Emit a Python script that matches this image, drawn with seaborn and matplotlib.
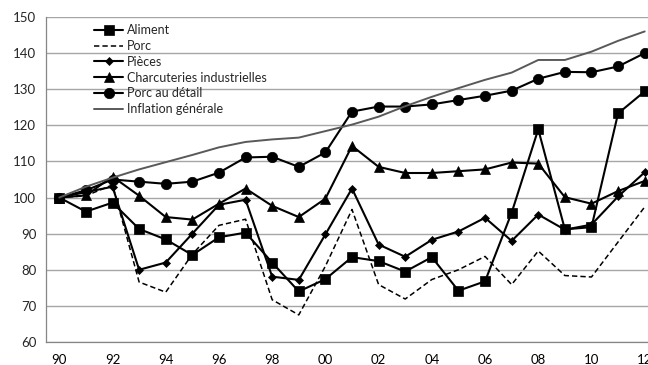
import numpy as np
import pandas as pd
import matplotlib
matplotlib.use("Agg")
import matplotlib.pyplot as plt
import seaborn as sns

years = list(range(1990, 2013))

aliment = [100, 96.1, 98.6, 91.3, 88.4, 84.1, 89.0, 90.3, 82.0, 74.0, 77.4,
           83.5, 82.4, 79.5, 83.5, 74.2, 76.8, 95.8, 118.9, 91.2, 91.8, 123.3, 129.4]
porc = [100, 100.5, 103.5, 76.6, 73.8, 84.3, 92.3, 94.0, 71.7, 67.5, 81.0,
        96.7, 75.9, 71.9, 77.3, 80.0, 83.7, 75.9, 85.2, 78.4, 78.0, 87.7, 97.4]
pieces = [100, 101.5, 103.0, 80.0, 82.0, 90.0, 98.0, 99.4, 78.1, 77.2, 89.8,
          102.5, 87.0, 83.6, 88.3, 90.6, 94.4, 88.0, 95.3, 91.1, 92.5, 100.3, 107.0]
charcuteries = [100, 100.6, 105.8, 100.5, 94.6, 93.9, 98.3, 102.5, 97.7, 94.6, 99.7,
                114.3, 108.5, 106.8, 106.8, 107.3, 107.8, 109.7, 109.4, 100.1, 98.3, 101.8, 104.6]
porc_detail = [100, 102.0, 105.0, 104.4, 103.8, 104.4, 106.9, 111.1, 111.3, 108.5, 112.5,
               123.8, 125.2, 125.2, 125.8, 127.0, 128.2, 129.6, 132.9, 134.8, 134.7, 136.3, 140.0]
inflation = [100, 103.0, 105.5, 107.8, 109.8, 111.8, 113.9, 115.4, 116.1, 116.6, 118.4,
             120.2, 122.4, 125.3, 127.9, 130.3, 132.6, 134.6, 138.1, 138.1, 140.4, 143.4, 146.0]

series_names = ["Aliment", "Porc", "Pièces", "Charcuteries industrielles",
                "Porc au détail", "Inflation générale"]
series_values = [aliment, porc, pieces, charcuteries, porc_detail, inflation]

y_ticks = [60, 70, 80, 90, 100, 110, 120, 130, 140, 150]
x_label_years = list(range(1990, 2013, 2))
x_tick_labels = [f"{y % 100:02d}" for y in x_label_years]

sns.set_theme(style="white")
plt.rcParams["font.family"] = ["Lato", "DejaVu Sans"]

fig = plt.figure(figsize=(6.48, 3.65), dpi=100)
W, H = 648, 365
ax = fig.add_axes([46 / W, (H - 342) / H, 612 / W, 325 / H])

styles = {
    "Aliment": dict(color="black", marker="s", markersize=7.5, linewidth=1.5, linestyle="-"),
    "Porc": dict(color="black", marker=None, linewidth=1.1, linestyle=(0, (3.5, 2))),
    "Pièces": dict(color="black", marker="D", markersize=4.5, linewidth=1.5, linestyle="-"),
    "Charcuteries industrielles": dict(color="black", marker="^", markersize=7.5, linewidth=1.5, linestyle="-"),
    "Porc au détail": dict(color="black", marker="o", markersize=7.5, linewidth=1.5, linestyle="-"),
    "Inflation générale": dict(color="#595959", marker=None, linewidth=1.4, linestyle="-"),
}

for name, vals in zip(series_names, series_values):
    df = pd.DataFrame({"year": years, "value": vals})
    st = styles[name]
    kw = dict(color=st["color"], linewidth=st["linewidth"], label=name)
    if st["marker"] is not None:
        kw.update(marker=st["marker"], markersize=st["markersize"],
                  markeredgecolor="black", markerfacecolor="black", markeredgewidth=0.5)
    sns.lineplot(data=df, x="year", y="value", ax=ax, **kw)
    ax.lines[-1].set_linestyle(st["linestyle"])

ax.set_xlim(1989.5, 2012.5)
ax.set_ylim(60, 150)
ax.set_yticks(y_ticks)
ax.set_xticks(x_label_years)
ax.set_xticklabels(x_tick_labels)
ax.set_xticks(np.arange(1990.5, 2012.5, 1.0), minor=True)
ax.tick_params(axis="x", which="major", length=0, pad=9, labelsize=9.5, colors="black")
ax.tick_params(axis="x", which="minor", length=4, width=0.9, color="#868686", direction="out")
ax.tick_params(axis="y", which="major", length=4, width=0.9, color="#868686", direction="out",
               labelsize=9.5, pad=3)
ax.set_xlabel("")
ax.set_ylabel("")
ax.grid(axis="y", color="#a6a6a6", linewidth=1.0)
ax.set_axisbelow(True)
for s in ["top", "right"]:
    ax.spines[s].set_visible(False)
for s in ["left", "bottom"]:
    ax.spines[s].set_color("#868686")
    ax.spines[s].set_linewidth(0.9)

handles, labels = ax.get_legend_handles_labels()
leg = ax.legend(handles, labels, loc="upper left", bbox_to_anchor=(0.071, 0.993),
                frameon=False, fontsize=9, handlelength=2.3, handletextpad=0.3,
                labelspacing=0.3, borderaxespad=0)
for h, name in zip(leg.legend_handles, series_names):
    h.set_linestyle(styles[name]["linestyle"])

fig.savefig("out.png", dpi=100)
